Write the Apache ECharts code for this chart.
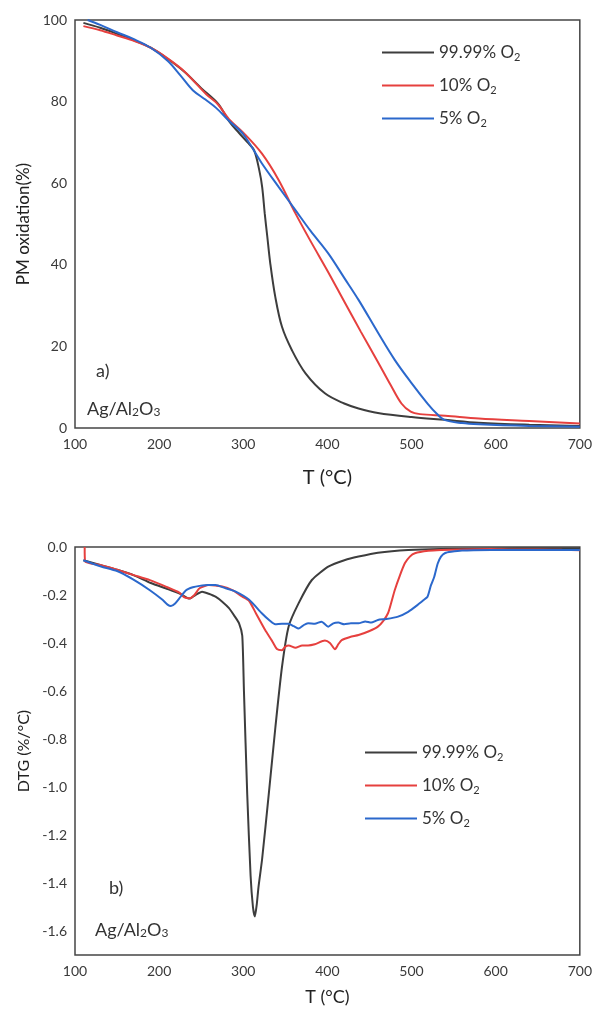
<!DOCTYPE html>
<html>
<head>
<meta charset="utf-8">
<script src="https://cdn.jsdelivr.net/npm/echarts@6/dist/echarts.min.js"></script>
<style>html,body{margin:0;padding:0;background:#fff}#c{width:595px;height:1015px}</style>
</head>
<body>
<div id="c"></div>
<script>
// ---- data ----
const seriesNames = ['99.99% O2', '10% O2', '5% O2'];
const legendLabels = ['99.99% O{sub|2}', '10% O{sub|2}', '5% O{sub|2}'];
const xTicks = [100, 200, 300, 400, 500, 600, 700];
const yTicksTop = [0, 20, 40, 60, 80, 100];
const yTicksBottom = [-1.6, -1.4, -1.2, -1.0, -0.8, -0.6, -0.4, -0.2, 0.0];

// a) PM oxidation (%) vs T
const tga999 = [[110,99.3],[130,98.1],[150,96.6],[170,95.0],[190,93.2],[210,90.5],[230,87.3],[250,83.3],[270,79.5],[283,75.2],[295,72.3],[306,69.8],[313,68.0],[319,63.2],[322.5,59.0],[325.5,52.6],[328.5,47.0],[332,40.5],[338,32.2],[346,24.8],[358,19.0],[374,13.4],[397,8.5],[420,6.0],[437,4.8],[460,3.7],[500,2.7],[540,2.0],[580,1.3],[640,0.8],[700,0.5]];
const tga10 = [[110,98.5],[130,97.5],[150,96.2],[170,94.9],[190,93.2],[210,90.6],[230,87.4],[256,81.8],[270,79.3],[283,75.7],[300,72.4],[322,67.3],[342,60.8],[362,52.6],[380,45.8],[401,38.2],[420,31.0],[440,23.5],[460,16.2],[475,10.6],[488,6.0],[499,4.0],[510,3.4],[540,3.0],[580,2.3],[640,1.7],[700,1.1]];
const tga5 = [[115,100],[130,98.8],[150,97.0],[170,95.3],[190,93.2],[210,90.0],[225,86.5],[240,82.8],[255,80.5],[268,78.4],[283,75.3],[300,72.0],[322,64.9],[342,59.1],[362,53.4],[380,48.3],[401,42.8],[420,36.8],[437,31.4],[460,23.4],[480,16.7],[500,11.0],[519,6.0],[530,3.5],[539,2.0],[560,1.2],[580,0.9],[640,0.5],[700,0.3]];

// b) DTG (%/°C) vs T
const dtg999 = [[110,-0.055],[130,-0.075],[150,-0.095],[170,-0.118],[190,-0.15],[210,-0.175],[225,-0.195],[236,-0.215],[243,-0.2],[251,-0.186],[259,-0.195],[267,-0.207],[275,-0.228],[283,-0.255],[290,-0.29],[295,-0.318],[298.8,-0.37],[300.8,-0.6],[304.7,-1.03],[308.7,-1.37],[311.5,-1.5],[313.8,-1.54],[316,-1.49],[318,-1.42],[322.4,-1.30],[330.3,-1.03],[338.2,-0.75],[346,-0.5],[354,-0.33],[365.7,-0.235],[381.5,-0.1375],[401,-0.082],[421,-0.054],[437,-0.04],[460,-0.024],[496,-0.0125],[535,-0.008],[600,-0.006],[650,-0.005],[700,-0.005]];
const dtg10 = [[111.5,0],[112,-0.06],[130,-0.075],[150,-0.095],[170,-0.117],[189,-0.138],[208,-0.165],[224,-0.19],[230,-0.21],[236,-0.214],[242,-0.2],[248,-0.172],[259,-0.158],[275,-0.165],[287,-0.18],[299,-0.207],[307,-0.225],[315,-0.276],[326,-0.346],[334,-0.39],[340,-0.425],[346,-0.43],[350,-0.415],[354,-0.41],[362,-0.42],[370,-0.41],[377,-0.41],[385,-0.405],[397,-0.39],[403,-0.4],[409,-0.426],[413,-0.405],[417,-0.388],[427,-0.375],[437,-0.367],[450,-0.35],[460,-0.332],[466,-0.31],[472,-0.276],[476,-0.23],[480,-0.18],[486,-0.12],[492,-0.068],[498,-0.04],[504,-0.026],[520,-0.016],[535,-0.0125],[560,-0.01],[594,-0.008],[620,-0.01],[650,-0.01],[680,-0.012],[700,-0.014]];
const dtg5 = [[110,-0.055],[130,-0.08],[150,-0.1],[169,-0.135],[189,-0.18],[204,-0.22],[210,-0.24],[214,-0.246],[219,-0.235],[224,-0.214],[232,-0.18],[240,-0.168],[248,-0.162],[258,-0.158],[267,-0.158],[279,-0.172],[291,-0.186],[307,-0.22],[322,-0.276],[331,-0.305],[338,-0.322],[346,-0.32],[354,-0.32],[360,-0.33],[366,-0.34],[372,-0.325],[377,-0.318],[385,-0.32],[393,-0.311],[401,-0.332],[407,-0.318],[413,-0.315],[420,-0.322],[428,-0.318],[437,-0.318],[445,-0.31],[452,-0.315],[460,-0.304],[470,-0.3],[484,-0.29],[496,-0.27],[507,-0.242],[514,-0.222],[519,-0.207],[523,-0.16],[527,-0.124],[531,-0.07],[535,-0.04],[540,-0.025],[547,-0.02],[560,-0.015],[594,-0.0125],[640,-0.012],[673,-0.0125],[700,-0.012]];

// ---- styling ----
const FONT = 'Lato, "Open Sans", sans-serif';
const colors = ['#3d3d3d', '#e6403e', '#2b68cc'];
const axisColor = '#454545';
const labelColor = '#3a3a3a';

const chart = echarts.init(document.getElementById('c'), null, {renderer: 'canvas'});

function xAxis(gridIndex, nameGap, nameSize) {
  return {
    type: 'value', gridIndex, min: 100, max: 700, interval: 100,
    name: 'T (°C)', nameLocation: 'middle', nameGap,
    nameTextStyle: {fontFamily: FONT, fontSize: nameSize, color: '#222'},
    axisLine: {show: false}, axisTick: {show: false}, splitLine: {show: false},
    axisLabel: {fontFamily: FONT, fontSize: 14, color: labelColor, margin: 9,
      customValues: xTicks}
  };
}

const rich = {sub: {fontFamily: FONT, fontSize: 11, lineHeight: 11, verticalAlign: 'bottom', color: '#333'}};
const richAnno = {sub: {fontFamily: FONT, fontSize: 12, lineHeight: 12, verticalAlign: 'bottom', color: '#333'}};

function legend(left, top) {
  return {
    orient: 'vertical', left, top, padding: 0, itemGap: 12,
    itemWidth: 52, itemHeight: 2, icon: 'rect',
    data: seriesNames,
    formatter: name => legendLabels[seriesNames.indexOf(name)],
    textStyle: {fontFamily: FONT, fontSize: 17, color: '#333', lineHeight: 21, rich}
  };
}

function line(name, data, idx, axisIdx, smooth) {
  return {
    name, type: 'line', data, xAxisIndex: axisIdx, yAxisIndex: axisIdx,
    showSymbol: false, smooth,
    lineStyle: {width: 2, color: colors[idx]}, itemStyle: {color: colors[idx]},
    animation: false
  };
}

const option = {
  animation: false,
  backgroundColor: '#fff',
  grid: [
    {left: 75, top: 20, width: 508, height: 408, show: true, borderColor: axisColor, borderWidth: 1.5, backgroundColor: 'transparent'},
    {left: 75, top: 547, width: 508, height: 408, show: true, borderColor: axisColor, borderWidth: 1.5, backgroundColor: 'transparent'}
  ],
  xAxis: [xAxis(0, 40, 20), xAxis(1, 33, 18)],
  yAxis: [
    {type: 'value', gridIndex: 0, min: 0, max: 100, interval: 20,
     name: 'PM oxidation(%)', nameLocation: 'middle', nameGap: 42,
     nameTextStyle: {fontFamily: FONT, fontSize: 17, color: '#222'},
     axisLine: {show: false}, axisTick: {show: false}, splitLine: {show: false},
     axisLabel: {fontFamily: FONT, fontSize: 14, color: labelColor, margin: 8, customValues: yTicksTop}},
    {type: 'value', gridIndex: 1, min: -1.7, max: 0,
     name: 'DTG (%/°C)', nameLocation: 'middle', nameGap: 42,
     nameTextStyle: {fontFamily: FONT, fontSize: 16, color: '#222'},
     axisLine: {show: false}, axisTick: {show: false, customValues: yTicksBottom}, splitLine: {show: false},
     axisLabel: {fontFamily: FONT, fontSize: 14, color: labelColor, margin: 8, customValues: yTicksBottom,
       formatter: v => (Math.abs(v) < 1e-9 ? 0 : v).toFixed(1)}}
  ],
  legend: [legend(382, 42), legend(365, 742)],
  graphic: [
    {type: 'text', left: 96, top: 362, style: {text: 'a)', font: '18px ' + FONT, fill: '#333'}},
    {type: 'text', left: 87, top: 400, style: {text: 'Ag/Al{sub|2}O{sub|3}', font: '18px ' + FONT, fill: '#333', rich: richAnno}},
    {type: 'text', left: 109, top: 879, style: {text: 'b)', font: '18px ' + FONT, fill: '#333'}},
    {type: 'text', left: 95, top: 921, style: {text: 'Ag/Al{sub|2}O{sub|3}', font: '18px ' + FONT, fill: '#333', rich: richAnno}}
  ],
  series: [
    line(seriesNames[0], tga999, 0, 0, 0.35),
    line(seriesNames[1], tga10, 1, 0, 0.35),
    line(seriesNames[2], tga5, 2, 0, 0.35),
    line(seriesNames[0], dtg999, 0, 1, 0.2),
    line(seriesNames[1], dtg10, 1, 1, 0.2),
    line(seriesNames[2], dtg5, 2, 1, 0.2)
  ]
};
chart.setOption(option);
</script>
</body>
</html>
